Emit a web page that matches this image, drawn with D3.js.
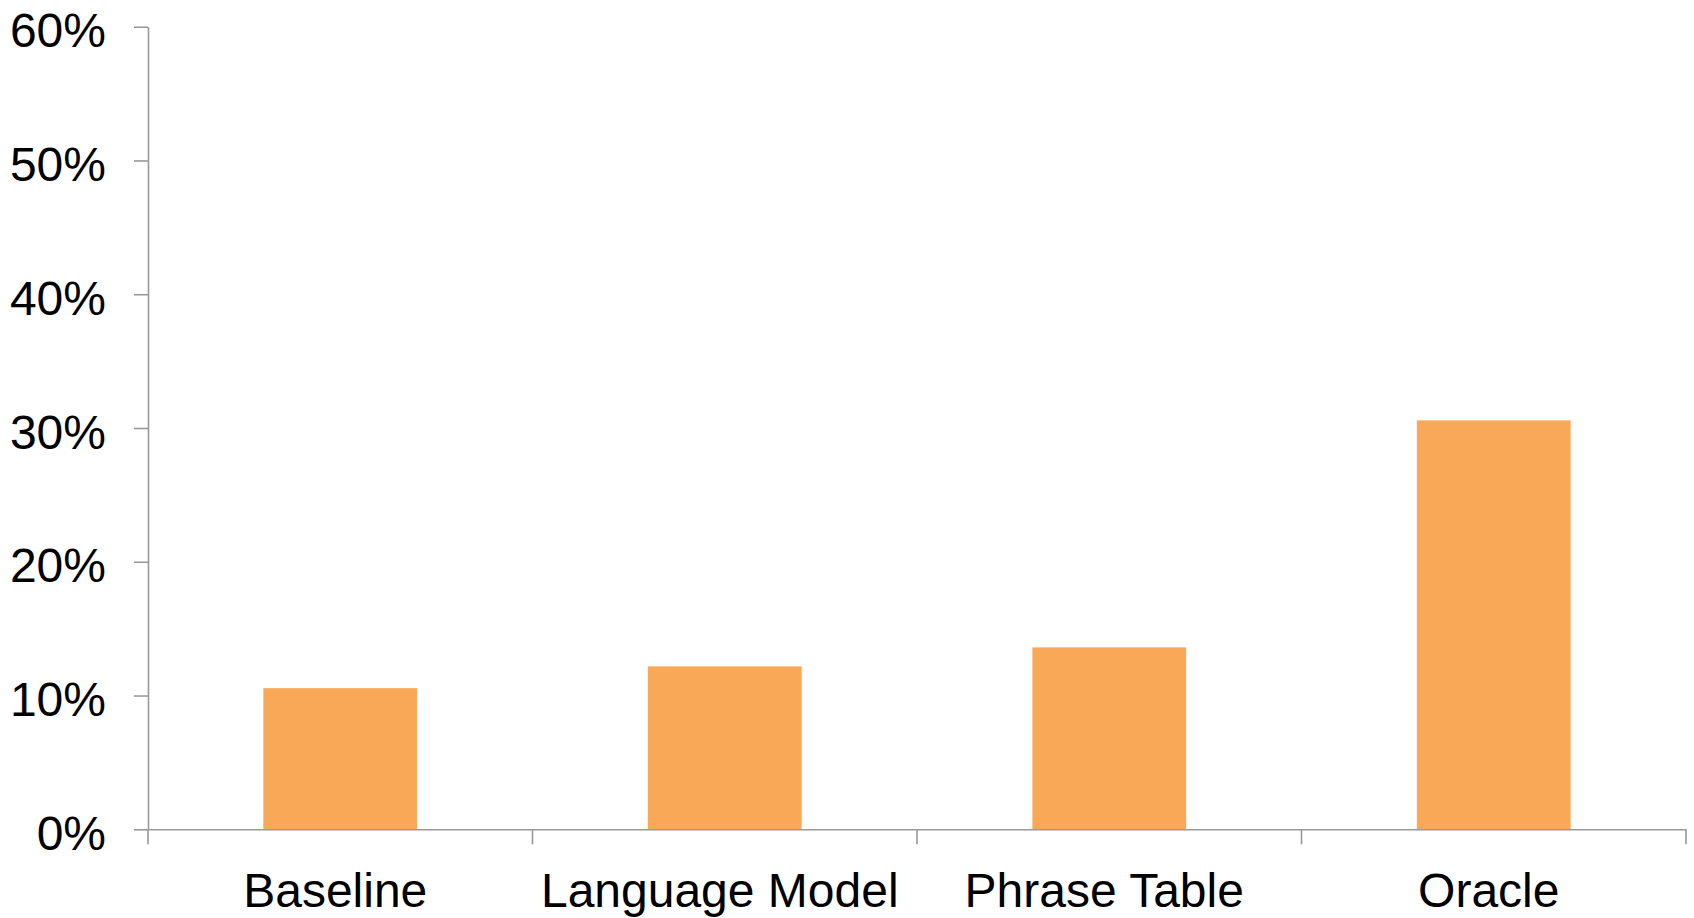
<!DOCTYPE html>
<html>
<head>
<meta charset="utf-8">
<script src="https://cdn.jsdelivr.net/npm/d3@7/dist/d3.min.js"></script>
<style>
  html, body { margin: 0; padding: 0; background: #fff; }
  svg { display: block; }
  text { font-family: "Liberation Sans", Arial, sans-serif; fill: #000; }
</style>
</head>
<body>
<svg id="chart" width="1694" height="918"></svg>
<script>
// Share of sentences per system
const categories = ["Baseline", "Language Model", "Phrase Table", "Oracle"];
const values = [0.1055, 0.1218, 0.136, 0.3057];
const yTicks = [0, 0.1, 0.2, 0.3, 0.4, 0.5, 0.6];

const W = 1694, H = 918;
const plot = { left: 148, right: 1686, top: 26.7, bottom: 829.3 };
const axisColor = "#999999";
const barColor = "#F9A857";

const svg = d3.select("#chart");

const x = d3.scaleBand()
  .domain(categories)
  .range([plot.left, plot.right])
  .paddingInner(0.6)
  .paddingOuter(0.3);

const y = d3.scaleLinear()
  .domain([0, 0.6])
  .range([plot.bottom, plot.top]);

// Bars
svg.append("g")
  .selectAll("rect")
  .data(categories)
  .join("rect")
  .attr("x", d => x(d))
  .attr("width", x.bandwidth())
  .attr("y", (d, i) => y(values[i]))
  .attr("height", (d, i) => y(0) - y(values[i]))
  .attr("fill", barColor);

// Y axis
const yAxis = svg.append("g")
  .attr("transform", `translate(${plot.left},0)`)
  .call(d3.axisLeft(y)
    .tickValues(yTicks)
    .tickFormat(d3.format(".0%"))
    .tickSize(14)
    .tickSizeOuter(0)
    .tickPadding(28));
yAxis.select(".domain").attr("stroke", axisColor).attr("stroke-width", 1.6);
yAxis.selectAll(".tick line").attr("stroke", axisColor).attr("stroke-width", 1.6);
yAxis.selectAll(".tick text")
  .attr("font-size", 48)
  .attr("font-family", "Liberation Sans, Arial, sans-serif")
  .attr("fill", "#000")
  .attr("dy", "0.42em");

// X axis: line, boundary ticks between categories, and centered labels
const xAxis = svg.append("g")
  .attr("transform", `translate(0,${plot.bottom})`)
  .call(d3.axisBottom(x).tickSize(0).tickSizeOuter(0).tickPadding(0));
xAxis.select(".domain").attr("stroke", axisColor).attr("stroke-width", 1.6);
xAxis.selectAll(".tick text")
  .attr("font-size", 48)
  .attr("font-family", "Liberation Sans, Arial, sans-serif")
  .attr("fill", "#000")
  .attr("dy", null)
  .attr("x", -5)
  .attr("y", 77.4);

const step = x.step();
const boundaries = d3.range(categories.length + 1)
  .map(i => x(categories[0]) - x.paddingOuter() * step + i * step);
xAxis.append("g")
  .selectAll("line")
  .data(boundaries)
  .join("line")
  .attr("x1", d => d).attr("x2", d => d)
  .attr("y1", 0).attr("y2", 15)
  .attr("stroke", axisColor)
  .attr("stroke-width", 1.6);
</script>
</body>
</html>
